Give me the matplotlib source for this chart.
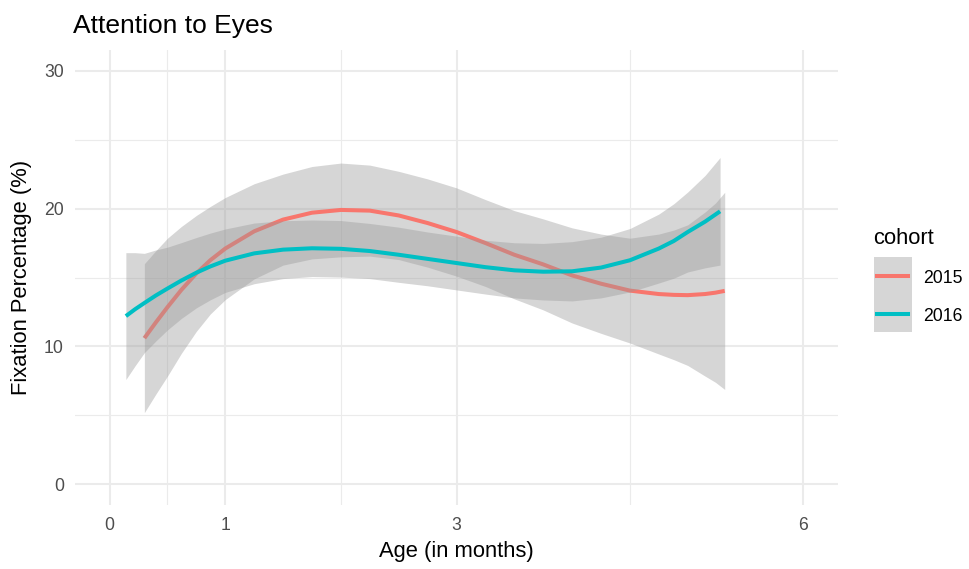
import numpy as np
import matplotlib
matplotlib.use("Agg")
import matplotlib.pyplot as plt
from matplotlib.patches import Rectangle
from matplotlib.lines import Line2D

plt.rcParams['font.family'] = ['Liberation Sans', 'DejaVu Sans']

# smoothed fits: age (months), fit (%), half width of the band
age_2015 = [0.30, 0.40, 0.50, 0.62, 0.75, 0.87, 1.00, 1.25, 1.50, 1.75, 2.00, 2.25, 2.50, 2.75,
            3.00, 3.25, 3.50, 3.75, 4.00, 4.25, 4.50, 4.75, 4.88, 5.00, 5.15, 5.24, 5.32]
fit_2015 = [10.6, 11.75, 12.85, 14.1, 15.3, 16.25, 17.1, 18.35, 19.2, 19.7, 19.9, 19.85, 19.5, 18.95,
            18.3, 17.5, 16.65, 15.95, 15.15, 14.55, 14.05, 13.8, 13.74, 13.72, 13.8, 13.9, 14.03]
se_2015 = [5.4, 5.2, 5.0, 4.6, 4.2, 3.9, 3.7, 3.45, 3.3, 3.35, 3.4, 3.3, 3.2, 3.2,
           3.2, 3.15, 3.2, 3.3, 3.45, 3.6, 3.8, 4.35, 4.7, 5.1, 5.95, 6.5, 7.15]

age_2016 = [0.14, 0.22, 0.30, 0.40, 0.50, 0.62, 0.75, 0.87, 1.00, 1.25, 1.50, 1.75, 2.00, 2.25, 2.50,
            2.75, 3.00, 3.25, 3.50, 3.75, 4.00, 4.25, 4.50, 4.75, 4.88, 5.00, 5.15, 5.28]
fit_2016 = [12.2, 12.7, 13.15, 13.7, 14.2, 14.78, 15.35, 15.8, 16.22, 16.75, 17.02, 17.12, 17.08, 16.92, 16.65,
            16.35, 16.05, 15.75, 15.52, 15.42, 15.45, 15.72, 16.25, 17.1, 17.65, 18.3, 19.05, 19.8]
se_2016 = [4.6, 4.1, 3.6, 3.3, 3.0, 2.75, 2.55, 2.42, 2.3, 2.2, 2.1, 2.05, 2.05, 2.0, 2.0,
           1.95, 1.95, 1.95, 2.0, 2.05, 2.15, 2.2, 2.3, 2.5, 2.7, 2.9, 3.35, 3.9]

cohorts = ['2015', '2016']
colors = ['#F8766D', '#00BFC4']
x_breaks = [0, 1, 3, 6]
x_minor = [0.5, 2, 4.5]
y_breaks = [0, 10, 20, 30]
y_minor = [5, 15, 25]

W, H = 969, 569
fig = plt.figure(figsize=(W / 100, H / 100), dpi=100)
ax = fig.add_axes([75 / W, 1 - 505 / H, (838 - 75) / W, (505 - 50) / H])

# ribbon then line for each group, like geom_smooth
series = [(age_2015, fit_2015, se_2015), (age_2016, fit_2016, se_2016)]
z = 2
for (a, f, s), c in zip(series, colors):
    a = np.array(a)
    f = np.array(f)
    s = np.array(s)
    ax.fill_between(a, f - s, f + s, color='#999999', alpha=0.4, linewidth=0, zorder=z)
    ax.plot(a, f, color=c, lw=2.9, solid_capstyle='butt', solid_joinstyle='round', zorder=z + 1)
    z += 2

ax.set_xlim(-0.3, 6.3)
ax.set_ylim(-1.5, 31.5)
ax.set_xticks(x_breaks)
ax.set_xticks(x_minor, minor=True)
ax.set_yticks(y_breaks)
ax.set_yticks(y_minor, minor=True)
ax.grid(which='major', color='#EBEBEB', lw=1.5, zorder=0)
ax.grid(which='minor', color='#EBEBEB', lw=0.8, zorder=0)
ax.set_axisbelow(True)
for sp in ax.spines.values():
    sp.set_visible(False)
ax.tick_params(which='both', length=0)
ax.tick_params(axis='x', pad=9, labelsize=12.7, labelcolor='#4D4D4D')
ax.tick_params(axis='y', pad=8, labelsize=12.7, labelcolor='#4D4D4D')

fig.text(73 / W, 1 - 32.5 / H, 'Attention to Eyes', fontsize=19, ha='left', va='baseline')
fig.text(456.5 / W, 1 - 557 / H, 'Age (in months)', fontsize=15.8, ha='center', va='baseline')
fig.text(22 / W, 1 - 277.5 / H, 'Fixation Percentage (%)', fontsize=15.8,
         ha='center', va='center', rotation=90)

# legend
fig.text(873 / W, 1 - 243.5 / H, 'cohort', fontsize=15.8, ha='left', va='baseline')
fig.add_artist(Rectangle((874 / W, 1 - 332 / H), 38 / W, 75 / H,
                         facecolor='#999999', alpha=0.4, edgecolor='none',
                         transform=fig.transFigure))
for i, (lab, c) in enumerate(zip(cohorts, colors)):
    yc = 276 + i * 38
    fig.add_artist(Line2D([877 / W, 908 / W], [1 - yc / H, 1 - yc / H], color=c, lw=2.9,
                          transform=fig.transFigure))
    fig.text(923 / W, 1 - (yc + 7) / H, lab, fontsize=12.7, ha='left', va='baseline')

fig.savefig('out.png', dpi=100)
